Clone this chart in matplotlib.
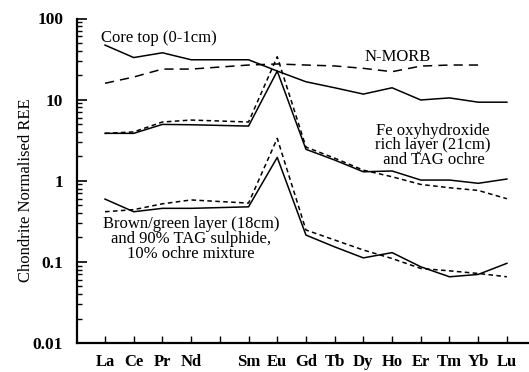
import matplotlib
matplotlib.use("Agg")
import matplotlib.pyplot as plt
import numpy as np
from matplotlib.ticker import LogLocator, FixedLocator, NullFormatter

plt.rcParams['font.family'] = ['Liberation Serif', 'DejaVu Serif']

tick_labels = ['La', 'Ce', 'Pr', 'Nd', '', 'Sm', 'Eu', 'Gd', 'Tb', 'Dy', 'Ho', 'Er', 'Tm', 'Yb', 'Lu']
elements = ['La', 'Ce', 'Pr', 'Nd', 'Sm', 'Eu', 'Gd', 'Tb', 'Dy', 'Ho', 'Er', 'Tm', 'Yb', 'Lu']

core_top = [47, 33, 37.8, 31, 31, 22.5, 16.6, 14, 11.7, 14, 9.9, 10.5, 9.3, 9.3]
n_morb = [15.9, 19, 23.8, 23.8, 26.7, 27.5, 26.7, 26, 24.3, 22.1, 25.9, 26.7, 26.7, np.nan]
fe_layer = [3.84, 3.84, 4.95, 4.9, 4.72, 22.5, 2.44, 1.8, 1.29, 1.32, 1.02, 1.02, 0.93, 1.05]
tag_ochre = [3.84, 4.0, 5.3, 5.6, 5.3, 33.8, 2.6, 1.9, 1.35, 1.12, 0.9, 0.82, 0.76, 0.6]
brown_layer = [0.594, 0.415, 0.457, 0.457, 0.477, 1.94, 0.214, 0.153, 0.112, 0.13, 0.087, 0.0655, 0.070, 0.096]
mix_90_10 = [0.415, 0.44, 0.52, 0.58, 0.53, 3.33, 0.247, 0.186, 0.14, 0.11, 0.083, 0.0775, 0.072, 0.0655]

tick_pos = np.arange(len(tick_labels))
xpos = np.array([tick_labels.index(e) for e in elements])

fig = plt.figure(figsize=(5.29, 3.72), dpi=100)
ax = fig.add_axes([77/529, 1-343/372, 1-77/529, (343-18.5)/372])

lw = 1.1
ax.plot(xpos, core_top, color='black', lw=lw)
ax.plot(xpos, n_morb, color='black', lw=lw, linestyle=(0, (6, 4)))
ax.plot(xpos, fe_layer, color='black', lw=lw)
ax.plot(xpos, tag_ochre, color='black', lw=lw, linestyle=(0, (3, 2.2)))
ax.plot(xpos, brown_layer, color='black', lw=lw)
ax.plot(xpos, mix_90_10, color='black', lw=lw, linestyle=(0, (3, 2.2)))

ax.set_yscale('log')
ax.set_ylim(0.01, 100)
ax.set_xlim(-0.976, 14.77)

ax.spines['top'].set_visible(False)
ax.spines['right'].set_visible(False)
ax.spines['left'].set_linewidth(1.6)
ax.spines['bottom'].set_linewidth(1.6)

ax.yaxis.set_major_locator(FixedLocator([0.01, 0.1, 1, 10, 100]))
ax.set_yticklabels(['0.01', '0.1', '1', '10', '100'])
ax.yaxis.set_minor_locator(LogLocator(base=10, subs=np.arange(2, 10)))
ax.yaxis.set_minor_formatter(NullFormatter())
ax.tick_params(axis='y', which='major', direction='in', length=7, width=1.2, labelsize=12.5, pad=10)
ax.tick_params(axis='y', which='minor', direction='in', length=3.5, width=1.0)

ax.set_xticks(tick_pos)
ax.set_xticklabels(tick_labels)
ax.tick_params(axis='x', which='major', direction='in', length=5, width=1.0, labelsize=12, pad=8)
ax.tick_params(axis='x', which='minor', bottom=False)

for lab in ax.get_yticklabels() + ax.get_xticklabels():
    lab.set_fontweight('semibold')

ax.set_ylabel('Chondrite Normalised REE', fontsize=12)
ax.yaxis.set_label_coords(-0.095, 0.471)

fs = 12
ax.text(-0.15, 57, 'Core top (0-1cm)', fontsize=fs, ha='left', va='center')
ax.text(10.2, 34, 'N-MORB', fontsize=fs, ha='center', va='center')
ax.text(11.4, 2.75, 'Fe oxyhydroxide\nrich layer (21cm)\n and TAG ochre', fontsize=fs,
        ha='center', va='center', linespacing=0.87)
ax.text(3.0, 0.19, 'Brown/green layer (18cm)\nand 90% TAG sulphide,\n10% ochre mixture', fontsize=fs,
        ha='center', va='center', linespacing=0.92)

fig.savefig('out.png', dpi=100)
